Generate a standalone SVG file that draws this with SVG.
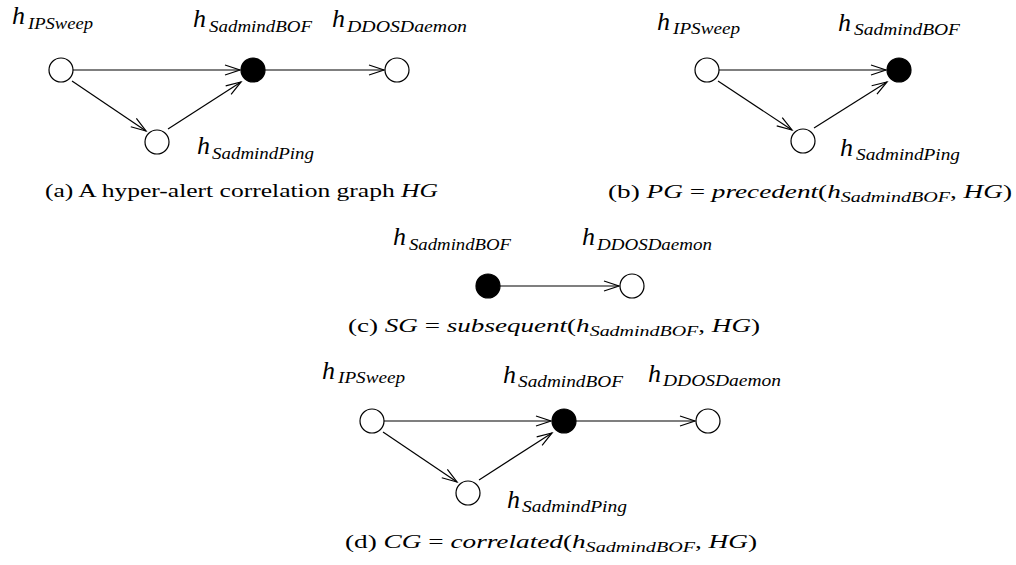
<svg xmlns="http://www.w3.org/2000/svg" width="1016" height="565" viewBox="0 0 1016 565">
  <style>
    .node { stroke: #000; stroke-width: 1.2; }
    .open { fill: #fff; }
    .hit { fill: #000; }
    .edge { stroke: #000; stroke-width: 1.2; fill: none; marker-end: url(#vee); }
    .h { font-family: "Liberation Serif", "Times New Roman", serif; font-style: italic; font-size: 26px; fill: #000; }
    .sub { font-family: "Liberation Serif", "Times New Roman", serif; font-style: italic; font-size: 16px; fill: #000; }
    .cap { font-family: "Liberation Serif", "Times New Roman", serif; font-size: 19px; fill: #000; }
    .mi { font-style: italic; }
    .ms { font-style: italic; font-size: 14px; }
  </style>
  <defs>
    <marker id="vee" markerUnits="userSpaceOnUse" markerWidth="20" markerHeight="14" refX="0" refY="0" viewBox="-17 -7 20 14" orient="auto">
      <path d="M-15,-5 L0,0 L-15,5" fill="none" stroke="#000" stroke-width="1.2"/>
    </marker>
  </defs>

  <!-- connectors -->
  <g id="connectors">
    <!-- (a) -->
    <line class="edge" x1="73" y1="70" x2="240" y2="70"/>
    <line class="edge" x1="265" y1="70" x2="384" y2="70"/>
    <line class="edge" x1="72" y1="81" x2="146" y2="131"/>
    <line class="edge" x1="168" y1="129" x2="241" y2="82"/>
    <!-- (b) -->
    <line class="edge" x1="719" y1="70" x2="886" y2="70"/>
    <line class="edge" x1="718" y1="81" x2="792" y2="130"/>
    <line class="edge" x1="814" y1="128" x2="887" y2="82"/>
    <!-- (c) -->
    <line class="edge" x1="500" y1="286" x2="619" y2="286"/>
    <!-- (d) -->
    <line class="edge" x1="384" y1="421" x2="551" y2="421"/>
    <line class="edge" x1="576" y1="421" x2="695" y2="421"/>
    <line class="edge" x1="383" y1="432" x2="457" y2="482"/>
    <line class="edge" x1="479" y1="480" x2="552" y2="433"/>
  </g>

  <!-- (a) hyper-alert correlation graph -->
  <g id="a-ipsweep">
    <circle class="node open" cx="61" cy="70" r="12"/>
    <text class="h" x="12" y="24">h</text>
    <text class="sub" x="28" y="29" textLength="65" lengthAdjust="spacingAndGlyphs">IPSweep</text>
  </g>
  <g id="a-sadmindbof">
    <circle class="node hit" cx="253" cy="70" r="12"/>
    <text class="h" x="193" y="27">h</text>
    <text class="sub" x="209" y="32" textLength="103" lengthAdjust="spacingAndGlyphs">SadmindBOF</text>
  </g>
  <g id="a-ddosdaemon">
    <circle class="node open" cx="397" cy="70" r="12"/>
    <text class="h" x="332" y="27">h</text>
    <text class="sub" x="347" y="32" textLength="120" lengthAdjust="spacingAndGlyphs">DDOSDaemon</text>
  </g>
  <g id="a-sadmindping">
    <circle class="node open" cx="157" cy="142" r="12"/>
    <text class="h" x="197" y="154">h</text>
    <text class="sub" x="212" y="159" textLength="102" lengthAdjust="spacingAndGlyphs">SadmindPing</text>
  </g>
  <text id="cap-a" class="cap" x="45" y="197" textLength="393" lengthAdjust="spacingAndGlyphs">(a) A hyper-alert correlation graph <tspan class="mi">HG</tspan></text>

  <!-- (b) precedent graph -->
  <g id="b-ipsweep">
    <circle class="node open" cx="707" cy="70" r="12"/>
    <text class="h" x="657" y="30">h</text>
    <text class="sub" x="673" y="34" textLength="67" lengthAdjust="spacingAndGlyphs">IPSweep</text>
  </g>
  <g id="b-sadmindbof">
    <circle class="node hit" cx="899" cy="70" r="12"/>
    <text class="h" x="838" y="31">h</text>
    <text class="sub" x="854" y="35" textLength="106" lengthAdjust="spacingAndGlyphs">SadmindBOF</text>
  </g>
  <g id="b-sadmindping">
    <circle class="node open" cx="803" cy="141" r="12"/>
    <text class="h" x="840" y="156">h</text>
    <text class="sub" x="856" y="160" textLength="104" lengthAdjust="spacingAndGlyphs">SadmindPing</text>
  </g>
  <text id="cap-b" class="cap" x="608" y="198" textLength="404" lengthAdjust="spacingAndGlyphs">(b) <tspan class="mi">PG</tspan> = <tspan class="mi">precedent</tspan>(<tspan class="mi">h</tspan><tspan class="ms" dy="4">SadmindBOF</tspan><tspan dy="-4">, </tspan><tspan class="mi">HG</tspan>)</text>

  <!-- (c) subsequent graph -->
  <g id="c-sadmindbof">
    <circle class="node hit" cx="488" cy="286" r="12"/>
    <text class="h" x="393" y="245">h</text>
    <text class="sub" x="409" y="250" textLength="102" lengthAdjust="spacingAndGlyphs">SadmindBOF</text>
  </g>
  <g id="c-ddosdaemon">
    <circle class="node open" cx="632" cy="286" r="12"/>
    <text class="h" x="582" y="245">h</text>
    <text class="sub" x="597" y="250" textLength="115" lengthAdjust="spacingAndGlyphs">DDOSDaemon</text>
  </g>
  <text id="cap-c" class="cap" x="348" y="332" textLength="412" lengthAdjust="spacingAndGlyphs">(c) <tspan class="mi">SG</tspan> = <tspan class="mi">subsequent</tspan>(<tspan class="mi">h</tspan><tspan class="ms" dy="4">SadmindBOF</tspan><tspan dy="-4">, </tspan><tspan class="mi">HG</tspan>)</text>

  <!-- (d) correlated graph -->
  <g id="d-ipsweep">
    <circle class="node open" cx="372" cy="421" r="12"/>
    <text class="h" x="322" y="379">h</text>
    <text class="sub" x="338" y="383" textLength="67" lengthAdjust="spacingAndGlyphs">IPSweep</text>
  </g>
  <g id="d-sadmindbof">
    <circle class="node hit" cx="564" cy="421" r="12"/>
    <text class="h" x="503" y="383">h</text>
    <text class="sub" x="518" y="387" textLength="105" lengthAdjust="spacingAndGlyphs">SadmindBOF</text>
  </g>
  <g id="d-ddosdaemon">
    <circle class="node open" cx="708" cy="421" r="12"/>
    <text class="h" x="648" y="382">h</text>
    <text class="sub" x="663" y="386" textLength="118" lengthAdjust="spacingAndGlyphs">DDOSDaemon</text>
  </g>
  <g id="d-sadmindping">
    <circle class="node open" cx="468" cy="493" r="12"/>
    <text class="h" x="507" y="508">h</text>
    <text class="sub" x="522" y="512" textLength="105" lengthAdjust="spacingAndGlyphs">SadmindPing</text>
  </g>
  <text id="cap-d" class="cap" x="345" y="548" textLength="412" lengthAdjust="spacingAndGlyphs">(d) <tspan class="mi">CG</tspan> = <tspan class="mi">correlated</tspan>(<tspan class="mi">h</tspan><tspan class="ms" dy="4">SadmindBOF</tspan><tspan dy="-4">, </tspan><tspan class="mi">HG</tspan>)</text>
</svg>
